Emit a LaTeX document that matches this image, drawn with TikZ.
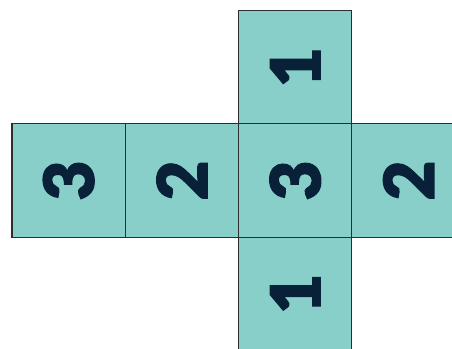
\documentclass[tikz,border=0pt]{standalone}
\usepackage{fontspec}
\newfontfamily\netfont[FakeBold=1.6]{Lato Black}
\usetikzlibrary{positioning}
\definecolor{facefill}{RGB}{136,207,201}
\definecolor{edgegray}{RGB}{45,45,45}
\definecolor{digitnavy}{RGB}{8,33,56}

\begin{document}
\begin{tikzpicture}[x=1pt,y=-1pt,
  face/.style={draw=edgegray,line width=1.1pt,fill=facefill,minimum size=113.3pt,
    inner sep=0pt,outer sep=0pt,rotate=90,text=digitnavy,
    font=\netfont\fontsize{69}{69}\selectfont}]
  \useasboundingbox (0,0) rectangle (452,348);
  \begin{scope}
    \clip (0,0) rectangle (452,348);
    % middle row of the net
    \node[face] (left)   at (68.65,180.45)  {3};
    \node[face] (midl)   at (181.95,180.45) {2};
    \node[face] (centre) at (295.25,180.45) {3};
    \node[face] (right)  at (408.55,180.45) {2};
    % top and bottom faces
    \node[face] (top)    at (295.25,67.15)  {1};
    \node[face] (bottom) at (295.25,293.75) {1};
  \end{scope}
\end{tikzpicture}
\end{document}
